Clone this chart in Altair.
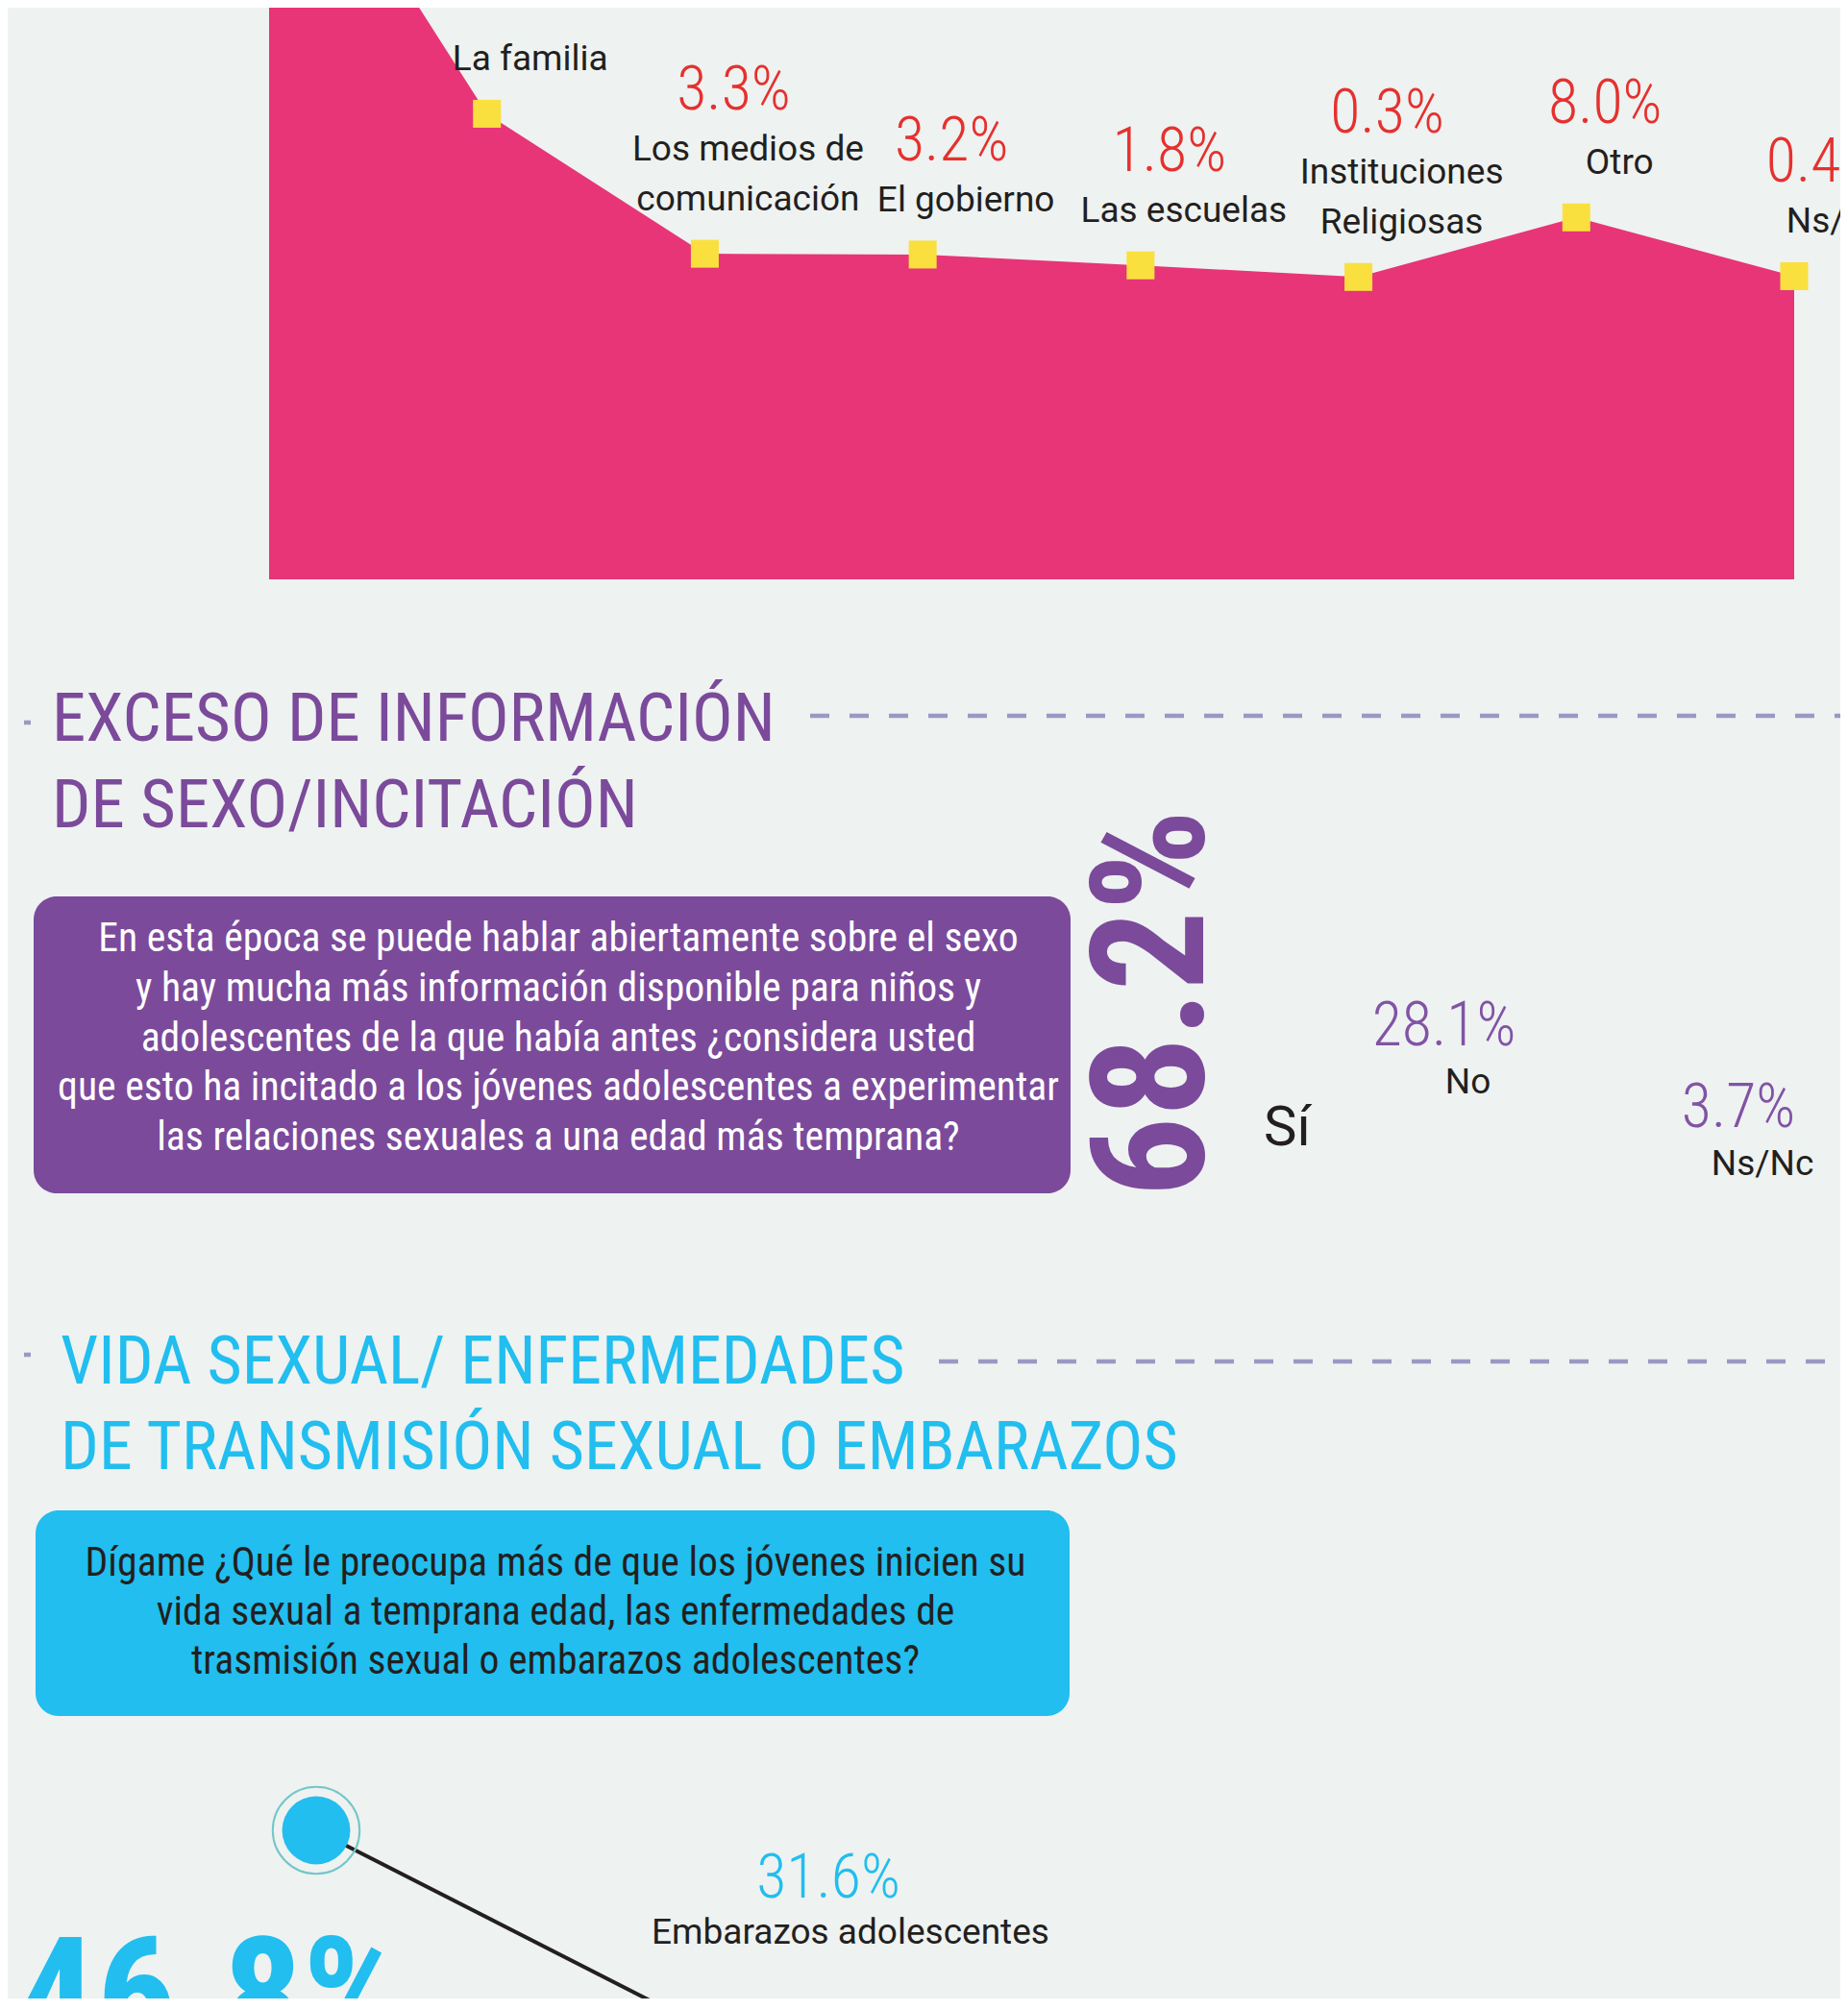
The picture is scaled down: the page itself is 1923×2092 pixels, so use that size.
import altair as alt
import pandas as pd

# ---------------- data ----------------
# Section 1: area chart
s1_names = ["", "La familia", "Los medios de\ncomunicación", "El gobierno", "Las escuelas",
            "Instituciones\nReligiosas", "Otro", "Ns/Nc"]
s1_values = [65.5, 21.4, 3.3, 3.2, 1.8, 0.3, 8.0, 0.4]
s1_labels = ["", "", "3.3%", "3.2%", "1.8%", "0.3%", "8.0%", "0.4%"]

# Section 2: Sí / No / Ns/Nc
s2_cats = ["Sí", "No", "Ns/Nc"]
s2_values = [68.2, 28.1, 3.7]
s2_labels = ["68.2%", "28.1%", "3.7%"]

# Section 3: preocupación
s3_cats = ["Enfermedades de transmisión sexual", "Embarazos adolescentes"]
s3_values = [46.8, 31.6]
s3_labels = ["46.8%", "31.6%"]

title2 = "EXCESO DE INFORMACIÓN\nDE SEXO/INCITACIÓN"
title3 = "VIDA SEXUAL/ ENFERMEDADES\nDE TRANSMISIÓN SEXUAL O EMBARAZOS"
question2 = ("En esta época se puede hablar abiertamente sobre el sexo\n"
             "y hay mucha más información disponible para niños y\n"
             "adolescentes de la que había antes ¿considera usted\n"
             "que esto ha incitado a los jóvenes adolescentes a experimentar\n"
             "las relaciones sexuales a una edad más temprana?")
question3 = ("Dígame ¿Qué le preocupa más de que los jóvenes inicien su\n"
             "vida sexual a temprana edad, las enfermedades de\n"
             "trasmisión sexual o embarazos adolescentes?")

# ---------------- styles ----------------
BG = "#EEF2F1"
PINK = "#E73577"
YELLOW = "#F9E03E"
RED = "#E5312E"
DARK = "#231F20"
PURPLE = "#7B4A9B"
PURPLE2 = "#8153A5"
CYAN = "#21BEEF"
DASH = "#9B98C3"
TEAL = "#74C6C9"
NARROW = "Roboto Condensed, Liberation Sans Narrow, DejaVu Sans Condensed, sans-serif"
SANS = "Roboto, Open Sans, sans-serif"

W, H = 1907, 2072

df1 = pd.DataFrame({
    "idx": list(range(len(s1_names))),
    "name": s1_names,
    "value": s1_values,
    "pct": s1_labels,
    "nlines": [n.count("\n") + 1 if n else 0 for n in s1_names],
})
df2 = pd.DataFrame({"cat": s2_cats, "value": s2_values, "pct": s2_labels,
                    "rank": list(range(len(s2_cats)))})
df3 = pd.DataFrame({"idx": list(range(len(s3_cats))), "cat": s3_cats,
                    "value": s3_values, "pct": s3_labels})
one = pd.DataFrame({"t": [0]})

# ---------------- section 1 ----------------
X1 = alt.Scale(domain=[0, 7], range=[272, 1859])
Y1 = alt.Scale(domain=[-38.8, 40], range=[595, -39.3])
x1 = alt.X("idx:Q", scale=X1, axis=None)
y1 = alt.Y("value:Q", scale=Y1, axis=None, stack=None)

layers = []
layers.append(alt.Chart(df1).mark_area(color=PINK, clip=True, interpolate="linear").encode(
    x=x1, y=y1, y2=alt.Y2Datum(-38.8)))
layers.append(alt.Chart(df1).mark_square(size=841, color=YELLOW, opacity=1, clip=True).encode(x=x1, y=y1))
for k in (1, 2):
    layers.append(alt.Chart(df1).transform_filter(f"datum.nlines == {k}").mark_text(
        font=SANS, fontSize=37, color=DARK, align="center", baseline="alphabetic",
        dx=45, dy=-45 - 52 * (k - 1), lineBreak="\n", lineHeight=52, clip=True
    ).encode(x=x1, y=y1, text="name:N"))
    layers.append(alt.Chart(df1).transform_filter(f"datum.nlines == {k} && datum.pct != ''").mark_text(
        font=NARROW, fontWeight=300, fontSize=64, color=RED, align="center", baseline="alphabetic",
        dx=30, dy=-45 - 52 * (k - 1) - 53, clip=True
    ).encode(x=x1, y=y1, text="pct:N"))

# ---------------- decorations: section headers ----------------
def dashed(x0, x1_, y, dash):
    return alt.Chart(one).mark_rule(color=DASH, strokeWidth=4.5, strokeDash=dash, clip=True).encode(
        x=alt.value(x0), x2=alt.value(x1_), y=alt.value(y))

def block_text(txt, x, y, size, color, align, lh, font=NARROW, weight="normal"):
    return alt.Chart(pd.DataFrame({"t": [txt]})).mark_text(
        font=font, fontSize=size, color=color, align=align, baseline="alphabetic",
        lineBreak="\n", lineHeight=lh, fontWeight=weight
    ).encode(x=alt.value(x), y=alt.value(y), text="t:N")

def box(x0, x1_, y0, y1_, color):
    return alt.Chart(one).mark_rect(color=color, cornerRadius=24).encode(
        x=alt.value(x0), x2=alt.value(x1_), y=alt.value(y0), y2=alt.value(y1_))

layers += [
    dashed(-8, 26, 744, [7, 18]),
    dashed(835, W, 737, [20, 21]),
    block_text(title2, 46, 763, 71, PURPLE, "left", 90),
    box(27, 1106, 925, 1234, PURPLE),
    block_text(question2, 573, 982, 41.7, "white", "center", 51.75),
    dashed(-8, 26, 1402, [7, 18]),
    dashed(969, W, 1409, [20, 21]),
    block_text(title3, 55, 1432, 70, CYAN, "left", 89),
    box(29, 1105, 1564, 1778, CYAN),
    block_text(question3, 570, 1632, 41.7, DARK, "center", 51),
]

# ---------------- section 2 ----------------
X2 = alt.Scale(type="point", domain=s2_cats, range=[1185, 1798], padding=0)
Y2 = alt.Scale(domain=[0, 100], range=[1177.9, 829.5])
x2 = alt.X("cat:N", scale=X2, axis=None)
y2 = alt.Y("value:Q", scale=Y2, axis=None)
layers.append(alt.Chart(df2).transform_filter("datum.rank == 0").mark_text(
    font=NARROW, fontWeight="bold", fontSize=165, color=PURPLE, angle=270,
    align="center", baseline="middle", dx=-96, dy=9).encode(x=x2, y=y2, text="pct:N"))
layers.append(alt.Chart(df2).transform_filter("datum.rank == 0").mark_text(
    font=SANS, fontSize=58, color=DARK, align="left", baseline="alphabetic",
    dx=122, dy=244).encode(x=x2, y=y2, text="cat:N"))
layers.append(alt.Chart(df2).transform_filter("datum.rank > 0").mark_text(
    font=NARROW, fontWeight=300, fontSize=64, color=PURPLE2, align="center",
    baseline="alphabetic", dx=3).encode(x=x2, y=y2, text="pct:N"))
layers.append(alt.Chart(df2).transform_filter("datum.rank > 0").mark_text(
    font=SANS, fontSize=37, color=DARK, align="center", baseline="alphabetic",
    dx=28, dy=50).encode(x=x2, y=y2, text="cat:N"))

# ---------------- section 3 ----------------
X3 = alt.Scale(domain=[0, 1], range=[321, 762])
Y3 = alt.Scale(domain=[0, 100], range=[2589.6, 1109.6])
x3 = alt.X("idx:Q", scale=X3, axis=None)
y3 = alt.Y("value:Q", scale=Y3, axis=None)
layers.append(alt.Chart(df3).mark_line(color=DARK, strokeWidth=4, clip=True).encode(x=x3, y=y3))
layers.append(alt.Chart(df3).mark_point(shape="circle", filled=False, size=8171, color=TEAL,
                                        strokeWidth=2, opacity=1, clip=True).encode(x=x3, y=y3))
layers.append(alt.Chart(df3).mark_circle(size=5027, color=CYAN, opacity=1, clip=True).encode(x=x3, y=y3))
layers.append(alt.Chart(df3).transform_filter("datum.idx == 0").mark_text(
    font=NARROW, fontWeight="bold", fontSize=165, color=CYAN, align="left",
    baseline="alphabetic", dx=-312, dy=228, clip=True).encode(x=x3, y=y3, text="pct:N"))
layers.append(alt.Chart(df3).transform_filter("datum.idx == 1").mark_text(
    font=NARROW, fontWeight=300, fontSize=64, color=CYAN, align="center",
    baseline="alphabetic", dx=92, dy=-155, clip=True).encode(x=x3, y=y3, text="pct:N"))
layers.append(alt.Chart(df3).transform_filter("datum.idx == 1").mark_text(
    font=SANS, fontSize=37, color=DARK, align="center", baseline="alphabetic",
    dx=115, dy=-107, clip=True).encode(x=x3, y=y3, text="cat:N"))

chart = alt.layer(*layers).resolve_scale(x="independent", y="independent").properties(
    width=W, height=H, padding=0, autosize=alt.AutoSizeParams(type="none")
).configure(background=BG).configure_view(stroke=None)

chart.save("out.html", embed_options={"renderer": "svg", "actions": False})
